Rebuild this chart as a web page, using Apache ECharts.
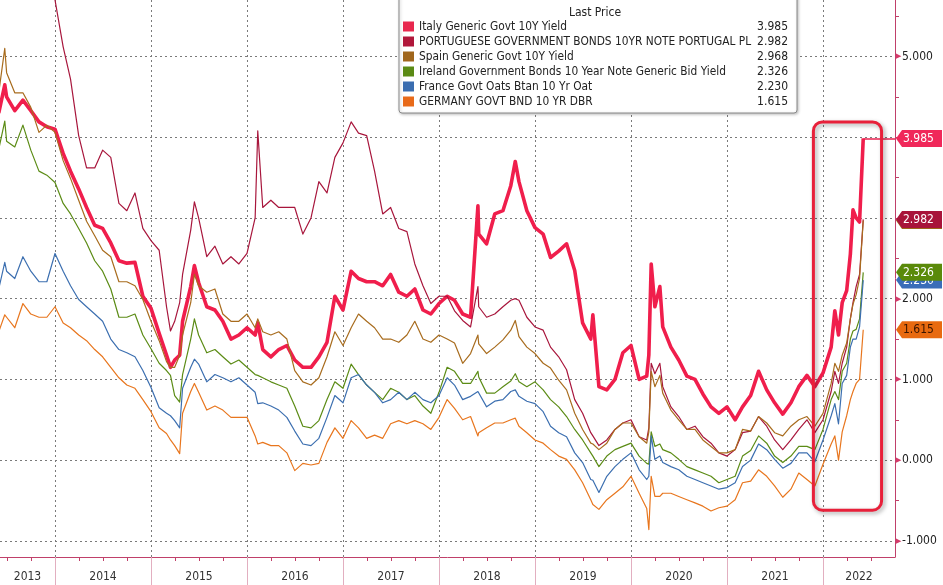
<!DOCTYPE html>
<html><head><meta charset="utf-8">
<script src="https://cdn.jsdelivr.net/npm/echarts@6/dist/echarts.min.js"></script>
<style>html,body{margin:0;padding:0;background:#fff}#c{width:943px;height:585px}</style>
</head><body><div id="c"></div>
<script>
// ---------------- DATA ----------------
const dates = [
  '2013-06-01','2013-06-24','2013-07-01','2013-08-01','2013-09-01','2013-10-01','2013-11-01','2013-12-01',
  '2014-01-01','2014-02-01','2014-03-01','2014-04-01','2014-05-01','2014-06-01','2014-07-01','2014-08-01','2014-09-01','2014-10-01','2014-11-01','2014-12-01',
  '2015-01-01','2015-02-01','2015-03-01','2015-03-16','2015-04-01','2015-04-20','2015-05-01','2015-06-01','2015-06-15','2015-07-01','2015-08-01','2015-09-01','2015-10-01','2015-11-01','2015-12-01',
  '2016-01-01','2016-02-01','2016-02-11','2016-03-01','2016-04-01','2016-05-01','2016-06-01','2016-07-01','2016-08-01','2016-09-01','2016-10-01','2016-11-01','2016-12-01',
  '2017-01-01','2017-02-01','2017-03-01','2017-04-01','2017-05-01','2017-06-01','2017-07-01','2017-08-01','2017-09-01','2017-10-01','2017-11-01','2017-12-01',
  '2018-01-01','2018-02-01','2018-03-01','2018-04-01','2018-05-01','2018-05-29','2018-06-01','2018-07-01','2018-08-01','2018-09-01','2018-10-01','2018-10-18','2018-11-01','2018-12-01',
  '2019-01-01','2019-02-01','2019-03-01','2019-04-01','2019-05-01','2019-06-01','2019-07-01','2019-08-01','2019-08-09','2019-09-01','2019-10-01','2019-11-01','2019-12-01',
  '2020-01-01','2020-02-01','2020-03-01','2020-03-09','2020-03-18','2020-04-01','2020-04-20','2020-05-01','2020-06-01','2020-07-01','2020-08-01','2020-09-01','2020-10-01','2020-11-01','2020-12-01',
  '2021-01-01','2021-02-01','2021-03-01','2021-04-01','2021-05-01','2021-06-01','2021-07-01','2021-08-01','2021-09-01','2021-10-01','2021-11-01','2021-12-01',
  '2022-01-01','2022-02-01','2022-02-15','2022-03-01','2022-03-15','2022-04-01','2022-04-15','2022-04-25','2022-05-07','2022-05-20','2022-06-03'
];

const italy = [
  4.3,4.65,4.5,4.33,4.46,4.33,4.19,4.13,
  4.1,3.8,3.58,3.36,3.13,2.91,2.87,2.69,2.47,2.44,2.45,2.03,
  1.88,1.57,1.3,1.15,1.24,1.3,1.72,2.15,2.41,2.2,1.9,1.86,1.72,1.5,1.55,
  1.64,1.55,1.7,1.37,1.28,1.37,1.42,1.24,1.15,1.15,1.28,1.46,2.03,
  1.86,2.34,2.25,2.21,2.21,2.16,2.3,2.08,2.03,2.12,1.86,1.81,
  1.94,2.03,1.98,1.81,1.77,3.15,2.8,2.68,3.05,3.09,3.4,3.7,3.45,3.09,
  2.88,2.8,2.51,2.59,2.68,2.35,1.7,1.5,1.8,0.91,0.87,1.0,1.33,
  1.42,1.0,1.04,1.3,2.43,1.9,2.15,1.65,1.4,1.24,1.04,1.0,0.82,0.66,0.58,
  0.66,0.5,0.66,0.8,1.1,0.87,0.71,0.57,0.71,0.91,1.05,0.91,
  1.08,1.4,1.85,1.55,1.95,2.1,2.55,3.1,3.0,2.95,3.985
];
const portugal = [
  6.2,6.6,6.7,6.5,7.0,6.6,6.1,6.0,
  5.7,5.12,4.72,4.02,3.62,3.62,3.84,3.75,3.18,3.09,3.31,2.87,
  2.72,2.6,1.9,1.6,1.72,1.95,2.3,2.85,3.2,3.0,2.52,2.65,2.43,2.52,2.43,
  2.56,3.0,4.08,3.13,3.22,3.13,3.13,3.13,2.8,3.0,3.45,3.31,3.75,
  3.93,4.19,4.05,4.02,3.58,3.05,3.13,2.87,2.83,2.43,2.16,1.94,
  2.03,2.03,1.85,1.73,1.65,2.15,1.9,1.77,1.81,1.9,1.98,2.0,1.98,1.77,
  1.65,1.61,1.4,1.28,1.12,0.75,0.58,0.34,0.3,0.18,0.25,0.38,0.46,
  0.5,0.29,0.25,0.4,1.2,1.07,1.2,0.91,0.66,0.54,0.38,0.42,0.29,0.21,0.09,
  0.05,0.13,0.34,0.36,0.54,0.42,0.25,0.13,0.25,0.38,0.5,0.34,
  0.5,0.85,1.1,0.95,1.2,1.4,1.75,1.95,2.15,2.3,2.982
];
const spain = [
  4.55,5.1,4.8,4.55,4.55,4.37,4.06,4.15,
  4.06,3.71,3.49,3.22,2.96,2.78,2.6,2.52,2.21,2.21,2.16,1.99,
  1.72,1.48,1.22,1.15,1.15,1.3,1.55,1.95,2.3,2.16,2.08,2.12,1.81,1.72,1.72,
  1.81,1.64,1.75,1.59,1.55,1.59,1.5,1.11,0.97,0.93,1.02,1.28,1.59,
  1.42,1.64,1.81,1.72,1.64,1.5,1.5,1.46,1.55,1.72,1.5,1.46,
  1.55,1.5,1.45,1.2,1.32,1.55,1.44,1.32,1.4,1.49,1.61,1.73,1.53,1.4,
  1.32,1.2,1.14,0.99,0.87,0.58,0.38,0.21,0.2,0.13,0.21,0.38,0.46,
  0.46,0.29,0.21,0.35,1.1,0.91,1.05,0.83,0.62,0.5,0.38,0.38,0.25,0.17,0.09,
  0.09,0.13,0.38,0.36,0.54,0.46,0.34,0.3,0.42,0.5,0.54,0.42,
  0.58,0.95,1.2,1.1,1.3,1.45,1.75,1.93,2.05,2.25,2.968
];
const ireland = [
  3.85,4.2,3.95,3.88,4.15,3.84,3.58,3.53,
  3.44,3.18,3.05,2.87,2.69,2.47,2.34,2.12,1.77,1.77,1.81,1.55,
  1.38,1.2,1.11,1.05,0.8,0.72,1.06,1.5,1.75,1.55,1.33,1.37,1.28,1.19,1.24,
  1.15,1.06,1.05,1.02,0.97,0.93,0.89,0.67,0.42,0.4,0.49,0.75,0.97,
  0.89,1.19,1.06,0.93,0.84,0.75,0.89,0.84,0.75,0.8,0.67,0.58,
  0.84,1.15,1.1,0.95,0.95,1.1,1.03,0.83,0.83,0.91,0.98,1.07,0.97,0.91,
  0.97,0.87,0.75,0.66,0.54,0.38,0.25,0.09,0.05,-0.08,0.05,0.13,0.17,
  0.21,0.05,-0.04,-0.05,0.35,0.17,0.2,0.13,0.09,0.01,-0.08,-0.12,-0.16,-0.2,-0.28,
  -0.24,-0.2,0.05,0.12,0.3,0.21,0.05,-0.03,0.05,0.17,0.17,0.13,
  0.38,0.75,0.85,0.75,1.1,1.2,1.5,1.6,1.62,1.75,2.326
];
const france = [
  2.12,2.45,2.34,2.25,2.52,2.34,2.21,2.21,
  2.56,2.34,2.16,1.99,1.9,1.81,1.72,1.5,1.37,1.33,1.28,1.11,
  0.9,0.65,0.58,0.55,0.49,0.4,0.89,1.15,1.25,1.19,0.97,1.06,1.02,0.97,1.02,
  0.93,0.84,0.7,0.71,0.67,0.62,0.53,0.36,0.2,0.18,0.27,0.53,0.8,
  0.71,1.02,1.06,0.93,0.84,0.71,0.75,0.84,0.75,0.84,0.75,0.71,
  0.8,1.02,0.93,0.75,0.79,0.85,0.83,0.66,0.73,0.75,0.85,0.87,0.79,0.73,
  0.7,0.6,0.42,0.34,0.29,0.09,-0.03,-0.24,-0.25,-0.4,-0.2,-0.08,0.01,
  0.09,-0.12,-0.24,-0.2,0.3,0.01,0.05,-0.03,-0.08,-0.12,-0.2,-0.24,-0.28,-0.32,-0.36,
  -0.34,-0.28,-0.08,0.0,0.2,0.13,0.01,-0.1,-0.04,0.09,0.09,-0.02,
  0.25,0.55,0.7,0.45,0.95,1.05,1.4,1.5,1.5,1.65,2.23
];
const germany = [
  1.59,1.8,1.77,1.64,1.94,1.81,1.77,1.77,
  1.9,1.7,1.64,1.55,1.48,1.37,1.28,1.15,1.02,0.93,0.89,0.75,
  0.6,0.4,0.33,0.25,0.18,0.08,0.58,0.85,0.95,0.84,0.62,0.67,0.62,0.53,0.53,
  0.53,0.3,0.2,0.22,0.18,0.18,0.09,-0.13,-0.04,-0.06,-0.04,0.22,0.4,
  0.27,0.49,0.4,0.27,0.31,0.27,0.45,0.49,0.45,0.49,0.45,0.38,
  0.53,0.75,0.64,0.5,0.54,0.3,0.34,0.4,0.46,0.46,0.5,0.52,0.42,0.34,
  0.25,0.21,0.13,0.05,0.01,-0.12,-0.28,-0.49,-0.55,-0.61,-0.49,-0.41,-0.33,
  -0.2,-0.41,-0.6,-0.86,-0.2,-0.45,-0.45,-0.41,-0.41,-0.45,-0.49,-0.53,-0.57,-0.63,-0.59,
  -0.57,-0.49,-0.28,-0.26,-0.12,-0.2,-0.32,-0.46,-0.36,-0.16,-0.24,-0.32,
  -0.05,0.2,0.3,0.0,0.35,0.55,0.75,0.85,0.95,1.0,1.615
];

const seriesNames = [
  'Italy Generic Govt 10Y Yield',
  'PORTUGUESE GOVERNMENT BONDS 10YR NOTE PORTUGAL PL',
  'Spain Generic Govt 10Y Yield',
  'Ireland Government Bonds 10 Year Note Generic Bid Yield',
  'France Govt Oats Btan 10 Yr Oat',
  'GERMANY GOVT BND 10 YR DBR'
];
const lastPrices = ['3.985','2.982','2.968','2.326','2.230','1.615'];
const yLabelValues = [-1, 0, 1, 2, 5];
const gridValues = [-1, 0, 1, 2, 3, 4, 5];
const yearLabels = [2013,2014,2015,2016,2017,2018,2019,2020,2021,2022];
const legendTitle = 'Last Price';

// ---------------- STYLE / LAYOUT ----------------
const allSeries = [italy, portugal, spain, ireland, france, germany];
allSeries.forEach((s, i) => { if (s.length !== dates.length) throw new Error('length mismatch series ' + i + ': ' + s.length + ' vs ' + dates.length); });

const FONT = "'DejaVu Sans Condensed','DejaVu Sans','Liberation Sans',sans-serif";
const lineColors = ['#F01E4C', '#A8163C', '#A86C1E', '#5C8C16', '#3C6FB0', '#E8761E'];
const legendColors = ['#E8284E', '#B0173A', '#A0661C', '#5A8A14', '#3A6DB0', '#E86A1A'];
const tagColors = ['#F0285A', '#A8143A', '#A0661C', '#5A8A0A', '#3A6DB8', '#E86A10'];
const tagText = ['#fff', '#fff', '#fff', '#fff', '#fff', '#3a1500'];
const widths = [3.6, 1.2, 1.2, 1.2, 1.2, 1.2];
const AXIS_COLOR = '#C0406A';

const X_MIN = 2013.427, X_MAX = 2022.75, Y_MIN = -1.2, Y_MAX = 5.7;

function toYear(s) {
  const [y, m, d] = s.split('-').map(Number);
  const t0 = Date.UTC(y, 0, 1), t1 = Date.UTC(y + 1, 0, 1);
  return y + (Date.UTC(y, m - 1, d) - t0) / (t1 - t0);
}
const xs = dates.map(toYear);
const pairs = vals => vals.map((v, i) => [xs[i], v]);

const yearBounds = yearLabels.filter(y => y > X_MIN && y < X_MAX);
const quarterTicks = [];
yearLabels.forEach(y => [0.25, 0.5, 0.75].forEach(q => { const v = y + q; if (v > X_MIN && v < X_MAX) quarterTicks.push(v); }));
const yearLabelPos = yearLabels.map(y => (Math.max(y, X_MIN) + Math.min(y + 1, X_MAX)) / 2);
const halfTicks = [];
for (let v = -1; v <= 5.5; v += 0.5) halfTicks.push(v);

const lastIdx = dates.length - 1;

const series = [{
  name: '_grid', type: 'line', data: [], z: 1, silent: true,
  markLine: {
    z: 1, silent: true, symbol: 'none', animation: false, label: { show: false },
    lineStyle: { type: [2, 3], color: '#7a7a7a', width: 1 },
    emphasis: { disabled: true },
    data: [...gridValues.map(v => ({ yAxis: v })), ...yearBounds.map(v => ({ xAxis: v }))]
  }
}];
allSeries.forEach((vals, i) => {
  const s = {
    name: seriesNames[i], type: 'line', data: pairs(vals), showSymbol: false, symbol: 'none',
    z: 2, silent: true, animation: false,
    lineStyle: { color: lineColors[i], width: widths[i], join: 'round' },
    itemStyle: { color: legendColors[i] },
    emphasis: { disabled: true }
  };
  if (i === 0) {
    s.markLine = {
      z: 2, silent: true, symbol: 'none', animation: false, label: { show: false },
      lineStyle: { type: 'solid', color: '#EE5A7C', width: 2 },
      emphasis: { disabled: true },
      data: [[{ coord: [xs[lastIdx], vals[lastIdx]] }, { coord: [X_MAX, vals[lastIdx]] }]]
    };
  }
  series.push(s);
});

const option = {
  animation: false,
  backgroundColor: '#ffffff',
  grid: { left: 0, right: 48, top: 0, bottom: 28, containLabel: false },
  xAxis: [{
    type: 'value', min: X_MIN, max: X_MAX, position: 'bottom',
    axisLine: { show: true, onZero: false, lineStyle: { color: AXIS_COLOR, width: 1 } },
    axisTick: { show: true, customValues: quarterTicks, length: 4, lineStyle: { color: AXIS_COLOR } },
    axisLabel: { show: false }, splitLine: { show: false }
  }, {
    type: 'value', min: X_MIN, max: X_MAX, position: 'bottom',
    axisLine: { show: false, onZero: false },
    axisTick: { show: true, customValues: yearBounds, length: 28, lineStyle: { color: '#E2AFC0' } },
    axisLabel: {
      show: true, customValues: yearLabelPos, margin: 14,
      formatter: v => String(Math.floor(v + 1e-6)),
      fontFamily: FONT, fontSize: 12, color: '#333'
    },
    splitLine: { show: false }
  }],
  yAxis: {
    type: 'value', position: 'right', min: Y_MIN, max: Y_MAX,
    axisLine: { show: true, onZero: false, lineStyle: { color: AXIS_COLOR, width: 1 } },
    axisTick: { show: true, customValues: halfTicks, length: 4, lineStyle: { color: AXIS_COLOR } },
    axisLabel: {
      show: true, customValues: yLabelValues, margin: 1,
      formatter: v => '{a|\u25B6}{b|' + v.toFixed(3) + '}',
      rich: {
        a: { color: '#D43A6A', fontSize: 7, padding: [0, 1, 0, 0] },
        b: { color: '#222', fontSize: 12, fontFamily: FONT }
      }
    },
    splitLine: { show: false }
  },
  legend: {
    orient: 'vertical', left: 403, top: 20, padding: 0, z: 8,
    itemWidth: 11, itemHeight: 10, itemGap: 2, icon: 'rect', selectedMode: false,
    data: seriesNames.map((n, i) => ({ name: n, itemStyle: { color: legendColors[i] } })),
    formatter: name => '{n|' + name + '}{v|' + lastPrices[seriesNames.indexOf(name)] + '}',
    textStyle: {
      fontFamily: FONT, fontSize: 12, color: '#222', lineHeight: 13,
      rich: {
        n: { width: 329, fontFamily: FONT, fontSize: 11.8, color: '#222', lineHeight: 13 },
        v: { width: 40, align: 'right', fontFamily: FONT, fontSize: 12, color: '#222', lineHeight: 13 }
      }
    }
  },
  series: series
};

const chart = echarts.init(document.getElementById('c'), null, { renderer: 'canvas' });
chart.setOption(option);

// annotations positioned through the chart's own scales
const P = (x, y) => chart.convertToPixel({ gridIndex: 0 }, [x, y]);
const graphics = [];
graphics.push({
  type: 'rect', z: 6, silent: true,
  shape: { x: 399, y: -5, width: 398, height: 118, r: 3 },
  style: { fill: '#fff', stroke: '#8a8a8a', lineWidth: 1, shadowBlur: 3, shadowColor: 'rgba(0,0,0,0.25)', shadowOffsetX: 1, shadowOffsetY: 1 }
});
graphics.push({
  type: 'text', z: 9, silent: true, x: 595, y: 13,
  style: { text: legendTitle, fill: '#222', font: '12px ' + FONT, align: 'center', verticalAlign: 'middle' }
});
// red highlight box
const tl = P(2021.9, 4.19), br = P(2022.61, -0.62);
graphics.push({
  type: 'rect', z: 7, silent: true,
  shape: { x: tl[0], y: tl[1], width: br[0] - tl[0], height: br[1] - tl[1], r: 9 },
  style: { fill: 'none', stroke: '#E8203A', lineWidth: 3, shadowBlur: 4, shadowColor: 'rgba(0,0,0,0.35)', shadowOffsetX: 2, shadowOffsetY: 2 }
});
// last-price tags on the right axis
const tagOrder = [5, 4, 3, 2, 1, 0];
tagOrder.forEach((i, k) => {
  const vals = allSeries[i];
  const p = P(X_MAX, vals[lastIdx]);
  const x0 = p[0] + 1, cy = p[1], h = 8.5, w = 46;
  graphics.push({
    type: 'polygon', z: 10 + k * 2, silent: true,
    shape: { points: [[x0, cy], [x0 + 6, cy - h], [x0 + w, cy - h], [x0 + w, cy + h], [x0 + 6, cy + h]] },
    style: { fill: tagColors[i] }
  });
  graphics.push({
    type: 'text', z: 11 + k * 2, silent: true, x: x0 + 7, y: cy + 0.5,
    style: { text: lastPrices[i], fill: tagText[i], font: '12px ' + FONT, align: 'left', verticalAlign: 'middle' }
  });
});
chart.setOption({ graphic: { elements: graphics } });
</script>
</body></html>
